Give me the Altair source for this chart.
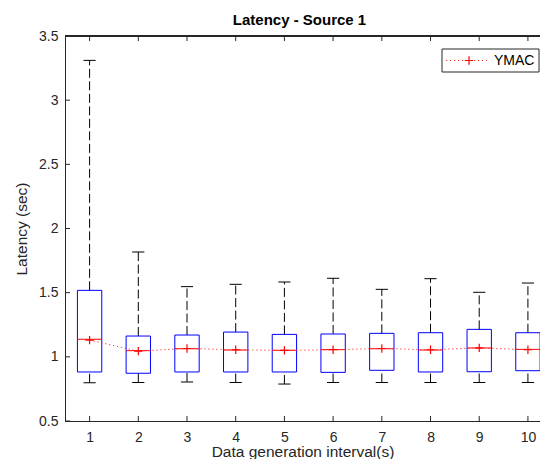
import altair as alt
import pandas as pd

# ---- data ----
intervals = [1, 2, 3, 4, 5, 6, 7, 8, 9, 10]
q1 = [0.882, 0.872, 0.882, 0.882, 0.882, 0.879, 0.895, 0.882, 0.884, 0.892]
q3 = [1.518, 1.162, 1.170, 1.193, 1.175, 1.178, 1.183, 1.188, 1.214, 1.188]
medians = [1.137, 1.048, 1.063, 1.053, 1.051, 1.056, 1.063, 1.053, 1.069, 1.058]
whisker_lo = [0.798, 0.800, 0.804, 0.800, 0.788, 0.800, 0.800, 0.800, 0.800, 0.800]
whisker_hi = [3.310, 1.817, 1.547, 1.565, 1.583, 1.612, 1.526, 1.609, 1.503, 1.575]
means = [1.130, 1.045, 1.065, 1.055, 1.050, 1.055, 1.065, 1.055, 1.070, 1.055]
series_name = "YMAC"
x_ticks = [1, 2, 3, 4, 5, 6, 7, 8, 9, 10]
y_ticks = [0.5, 1.0, 1.5, 2.0, 2.5, 3.0, 3.5]
title_text = "Latency - Source 1"
x_title = "Data generation interval(s)"
y_title = "Latency (sec)"

df = pd.DataFrame({
    "x": intervals, "q1": q1, "q3": q3, "med": medians,
    "lo": whisker_lo, "hi": whisker_hi, "mean": means,
})

W, H = 475, 385
AX = "#262626"
FONT = "Liberation Sans"

xs = alt.Scale(domain=[0.495, 10.248], nice=False, zero=False)
ys = alt.Scale(domain=[0.5, 3.5], nice=False, zero=False)

base = alt.Chart(df).transform_calculate(
    xl="datum.x - 0.25", xr="datum.x + 0.25",
    cl="datum.x - 0.125", cr="datum.x + 0.125",
)

x_axis = alt.Axis(values=x_ticks, tickSize=0, labelPadding=9, labelFontSize=14,
                  labelColor=AX, domainColor=AX, grid=False, title=x_title,
                  titleFontSize=15.5, titleFontWeight="normal", titleColor=AX,
                  titleBaseline="alphabetic", titleY=35.5,
                  labelFont=FONT, titleFont=FONT, format="d")
y_axis = alt.Axis(values=y_ticks, tickSize=0, labelPadding=7, labelFontSize=14,
                  labelColor=AX, domainColor=AX, grid=False, title=y_title,
                  titleFontSize=15.5, titleFontWeight="normal", titleColor=AX,
                  titlePadding=9, labelFont=FONT, titleFont=FONT,
                  labelExpr="format(datum.value, '~g')")

# whiskers (dashed)
upper_whisk = base.mark_rule(color="black", strokeDash=[9, 3.5], strokeWidth=1).encode(
    x=alt.X("x:Q", scale=xs, axis=x_axis),
    y=alt.Y("q3:Q", scale=ys, axis=y_axis),
    y2="hi:Q",
)
lower_whisk = base.mark_rule(color="black", strokeDash=[9, 3.5], strokeWidth=1).encode(
    x=alt.X("x:Q", scale=xs), y=alt.Y("lo:Q", scale=ys), y2="q1:Q",
)
cap_hi = base.mark_rule(color="black", strokeWidth=1).encode(
    x=alt.X("cl:Q", scale=xs), x2="cr:Q", y=alt.Y("hi:Q", scale=ys),
)
cap_lo = base.mark_rule(color="black", strokeWidth=1).encode(
    x=alt.X("cl:Q", scale=xs), x2="cr:Q", y=alt.Y("lo:Q", scale=ys),
)
boxes = base.mark_rect(fill=None, fillOpacity=0, stroke="#0000FF", strokeWidth=1).encode(
    x=alt.X("xl:Q", scale=xs), x2="xr:Q",
    y=alt.Y("q1:Q", scale=ys), y2="q3:Q",
)
med_line = base.mark_rule(color="#FF0000", strokeWidth=1).encode(
    x=alt.X("xl:Q", scale=xs), x2="xr:Q", y=alt.Y("med:Q", scale=ys),
)
mean_line = base.mark_line(color="#FF3030", strokeDash=[1.2, 2.8], strokeWidth=1).encode(
    x=alt.X("x:Q", scale=xs), y=alt.Y("mean:Q", scale=ys),
)
PLUS = "M-1,0L1,0M0,-1L0,1"
mean_pts = base.mark_point(shape=PLUS, filled=False, stroke="#FF0000", strokeWidth=1.2,
                           size=70, opacity=1).encode(
    x=alt.X("x:Q", scale=xs), y=alt.Y("mean:Q", scale=ys),
)

# inward tick marks and top border
tdf_x = pd.DataFrame({"t": x_ticks})
tdf_y = pd.DataFrame({"t": y_ticks})
ticks_bottom = alt.Chart(tdf_x).mark_rule(color=AX).encode(
    x=alt.X("t:Q", scale=xs), y=alt.value(H), y2=alt.value(H - 5))
ticks_top = alt.Chart(tdf_x).mark_rule(color=AX).encode(
    x=alt.X("t:Q", scale=xs), y=alt.value(0), y2=alt.value(5))
ticks_left = alt.Chart(tdf_y).mark_rule(color=AX).encode(
    y=alt.Y("t:Q", scale=ys), x=alt.value(0), x2=alt.value(5))
top_border = alt.Chart(tdf_x).mark_rule(color=AX).encode(
    x=alt.value(0), x2=alt.value(W), y=alt.value(0))

# legend
ldf = pd.DataFrame({"name": [series_name]})
leg_box = alt.Chart(ldf).mark_rect(fill="white", stroke=AX, strokeWidth=1).encode(
    x=alt.value(377), x2=alt.value(474), y=alt.value(13), y2=alt.value(36))
leg_line = alt.Chart(ldf).mark_rule(color="#FF3030", strokeDash=[1.2, 2.8]).encode(
    x=alt.value(381), x2=alt.value(422), y=alt.value(24.5))
leg_pt = alt.Chart(ldf).mark_point(shape=PLUS, filled=False, stroke="#FF0000",
                                   strokeWidth=1.2, size=70, opacity=1).encode(
    x=alt.value(404), y=alt.value(24.5))
leg_txt = alt.Chart(ldf).mark_text(align="left", baseline="middle", fontSize=14,
                                   font=FONT, color="black").encode(
    x=alt.value(429), y=alt.value(25), text="name:N")

chart = alt.layer(
    upper_whisk, lower_whisk, cap_hi, cap_lo, boxes, med_line, mean_line, mean_pts,
    ticks_bottom, ticks_top, ticks_left, top_border,
    leg_box, leg_line, leg_pt, leg_txt,
).properties(
    width=W, height=H,
    title=alt.TitleParams(title_text, fontSize=15, fontWeight="bold", font=FONT,
                          color="black", offset=1, dx=-3),
    autosize=alt.AutoSizeParams(type="none"),
    padding={"left": 57, "top": 28, "right": 0, "bottom": 38},
).configure_view(stroke=None).configure(background="white")

chart.save("out.html", embed_options={"renderer": "svg", "actions": False})
